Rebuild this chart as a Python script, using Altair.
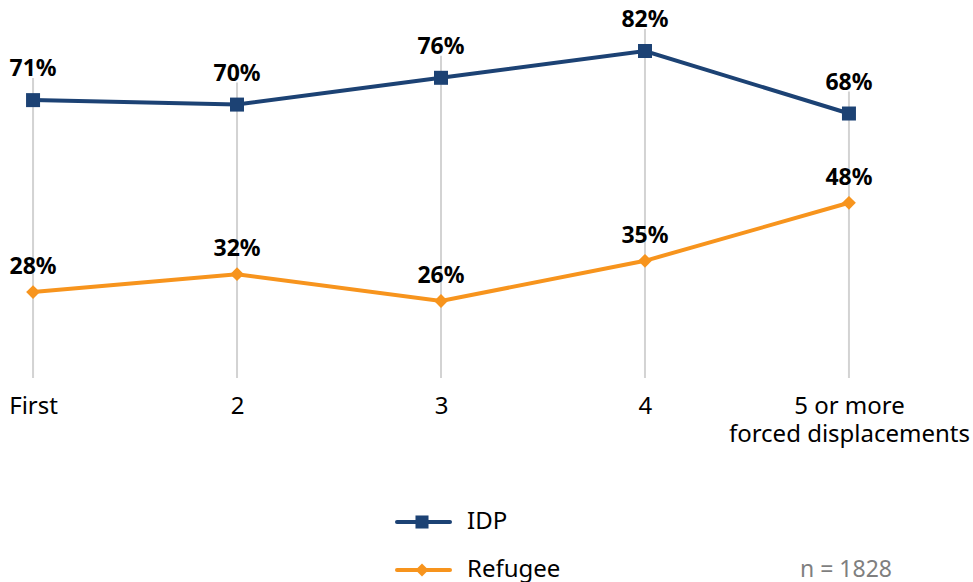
import altair as alt
import pandas as pd

categories = ["First", "2", "3", "4", "5 or more\nforced displacements"]
series_names = ["IDP", "Refugee"]
idp_values = [71, 70, 76, 82, 68]
refugee_values = [28, 32, 26, 35, 48]
series_colors = ["#1C4274", "#F7941D"]
series_shapes = ["square", "diamond"]
note = "n = 1828"

FONT = "Noto Sans"
Y_MIN, Y_MAX = 8.75, 91.86

rows = []
for c, v in zip(categories, idp_values):
    rows.append({"cat": c, "series": "IDP", "value": v})
for c, v in zip(categories, refugee_values):
    rows.append({"cat": c, "series": "Refugee", "value": v})
df = pd.DataFrame(rows)
df["label"] = df["value"].astype(str) + "%"

grid_df = pd.DataFrame({"cat": categories, "top": [max(a, b) for a, b in zip(idp_values, refugee_values)]})

x_enc = alt.X(
    "cat:N",
    sort=categories,
    scale=alt.Scale(type="point", padding=0.162),
    axis=alt.Axis(
        title=None, labelAngle=0, domain=False, ticks=False, grid=False,
        labelFont=FONT, labelFontSize=24, labelColor="#000000",
        labelPadding=16, labelLineHeight=28, labelLimit=0,
        labelExpr="split(datum.label, '\\n')",
    ),
)
y_scale = alt.Scale(domain=[Y_MIN, Y_MAX], zero=False, nice=False)
color_scale = alt.Scale(domain=series_names, range=series_colors)
shape_scale = alt.Scale(domain=series_names, range=series_shapes)

grid = alt.Chart(grid_df).mark_rule(color="#D3D3D3", strokeWidth=2, yOffset=-22).encode(
    x=x_enc,
    y=alt.Y("top:Q", scale=y_scale, axis=None),
    y2=alt.datum(Y_MIN),
)

lines = alt.Chart(df).mark_line(strokeWidth=4).encode(
    x=x_enc,
    y=alt.Y("value:Q", scale=y_scale, axis=None),
    color=alt.Color("series:N", scale=color_scale, legend=None),
    detail="series:N",
)

points = alt.Chart(df).mark_point(filled=True, opacity=1).encode(
    x=x_enc,
    y=alt.Y("value:Q", scale=y_scale, axis=None),
    color=alt.Color("series:N", scale=color_scale, legend=None),
    shape=alt.Shape("series:N", scale=shape_scale, legend=None),
    size=alt.Size("series:N", scale=alt.Scale(domain=series_names, range=[196, 190]), legend=None),
)

labels_idp = alt.Chart(df).transform_filter(alt.datum.series == "IDP").mark_text(
    font=FONT, fontSize=23, fontWeight="bold", color="#000000", dy=-31, baseline="middle"
).encode(
    x=x_enc,
    y=alt.Y("value:Q", scale=y_scale, axis=None),
    text="label:N",
)

labels_ref = alt.Chart(df).transform_filter(alt.datum.series == "Refugee").mark_text(
    font=FONT, fontSize=23, fontWeight="bold", color="#000000", dy=-25, baseline="middle"
).encode(
    x=x_enc,
    y=alt.Y("value:Q", scale=y_scale, axis=None),
    text="label:N",
)

# manual legend
legend_layers = []
legend_y = [515, 563]
for name, col, shp, ly in zip(series_names, series_colors, series_shapes, legend_y):
    ldf = pd.DataFrame({"series": [name]})
    legend_layers.append(
        alt.Chart(ldf).mark_rule(color=col, strokeWidth=4, strokeCap="round").encode(
            x=alt.value(397), x2=alt.value(450), y=alt.value(ly)
        )
    )
    legend_layers.append(
        alt.Chart(ldf).mark_point(shape=shp, filled=True, opacity=1, color=col, size=170).encode(
            x=alt.value(422), y=alt.value(ly)
        )
    )
    legend_layers.append(
        alt.Chart(ldf).mark_text(font=FONT, fontSize=24, color="#000000", align="left", baseline="middle").encode(
            x=alt.value(467), y=alt.value(ly), text="series:N"
        )
    )

note_layer = alt.Chart(pd.DataFrame({"note": [note]})).mark_text(
    font=FONT, fontSize=23, color="#7F7F7F", align="left", baseline="middle"
).encode(x=alt.value(800), y=alt.value(563), text="note:N")

chart = alt.layer(grid, lines, points, labels_idp, labels_ref, *legend_layers, note_layer).properties(
    width=882, height=371, padding={"top": 7, "left": 0, "right": 0, "bottom": 0},
    background="#FFFFFF",
).configure_view(stroke=None)

chart.save("out.html", embed_options={"renderer": "svg", "actions": False})
